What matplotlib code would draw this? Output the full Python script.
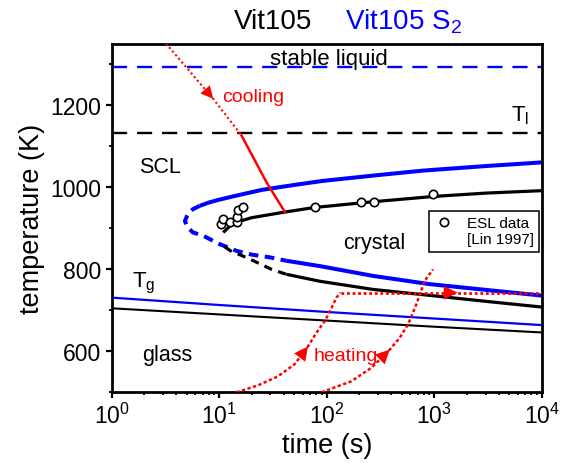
import matplotlib
matplotlib.use("Agg")
import matplotlib.pyplot as plt
from matplotlib.ticker import LogLocator, MultipleLocator, NullFormatter

plt.rcParams['font.family'] = ['Liberation Sans', 'DejaVu Sans']
plt.rcParams['mathtext.fontset'] = 'custom'
plt.rcParams['mathtext.rm'] = 'Liberation Sans'
plt.rcParams['mathtext.it'] = 'Liberation Sans:italic'

# liquidus temperatures (K)
T_liq_vit105 = 1133
T_liq_s2 = 1294

# glass transition vs time
tg_t = [1, 10, 100, 1000, 1e4]
tg_vit105 = [705, 690, 675, 660, 646]
tg_s2 = [731, 713, 696, 680, 664]

# Vit105 TTT nose (black)
blk_upper_t = [10.9, 12.5, 14.5, 20, 39, 77, 270, 1000, 3000, 1e4]
blk_upper_T = [890, 905, 915, 926, 939, 951, 965, 978, 986, 992]
blk_nose_t = [11.3, 12.6, 19.3, 30.7, 42]
blk_nose_T = [855, 846, 825, 800, 788]
blk_lower_t = [42, 86, 270, 800, 3000, 1e4]
blk_lower_T = [788, 771, 751, 738, 722, 708]

# Vit105 S2 TTT nose (blue)
blu_upper_t = [6.6, 8, 10, 14.5, 25, 50, 93, 300, 790, 3000, 1e4]
blu_upper_T = [955, 963, 970, 980, 994, 1006, 1016, 1030, 1041, 1052, 1061]
blu_nose_t = [6.6, 5.7, 5.1, 4.8, 5.1, 5.7, 7.1, 10, 14.5, 20, 30, 42]
blu_nose_T = [955, 947, 935, 918, 902, 890, 882, 862, 845, 836, 829, 821]
blu_lower_t = [42, 86, 270, 900, 3000, 1e4]
blu_lower_T = [821, 808, 784, 764, 750, 736]

# ESL data [Lin 1997]
esl_t = [10.5, 10.9, 12.6, 14.5, 14.5, 14.8, 16.7, 77, 210, 276, 975]
esl_T = [910, 923, 915, 915, 928, 946, 951, 951, 965, 965, 983]

# cooling path (dotted above T_l, solid below)
cool_dot_t = [3.2, 8.8, 16.1]
cool_dot_T = [1351, 1216, 1127]
cool_t = [16.1, 27.6, 40.8]
cool_T = [1127, 1012, 940]

# heating paths
heat1_t = [14.5, 23, 35.3, 50.5, 67, 80, 96, 111, 123, 135]
heat1_T = [500, 517, 539, 569, 612, 645, 674, 706, 731, 743]
hold_t = [135, 1e4]
hold_T = [743, 743]
heat2_t = [89.5, 170, 261, 386, 478, 571, 683, 816, 975]
heat2_T = [500, 527, 560, 604, 633, 666, 715, 772, 800]
hold_arrow_t = 1650

BLUE = '#0000ff'
RED = '#ff0000'


def arrow(ax, p0, p1, color, size=11):
    ax.annotate('', xy=p1, xytext=p0,
                arrowprops=dict(arrowstyle='-|>,head_length=0.5,head_width=0.25',
                                color=color, lw=0,
                                mutation_scale=size, shrinkA=0, shrinkB=0),
                zorder=6)


fig = plt.figure(figsize=(5.67, 4.64), dpi=100)
ax = fig.add_axes([0.197, 0.1524, 0.7584, 0.7507])
ax.set_xscale('log')
ax.set_xlim(1, 1e4)
ax.set_ylim(500, 1350)

# liquidus lines
ax.axhline(T_liq_s2, color=BLUE, lw=1.7, dashes=(6.4, 4.2))
ax.axhline(T_liq_vit105, color='black', lw=1.7, dashes=(6.4, 4.2))

# Tg lines
ax.plot(tg_t, tg_s2, color=BLUE, lw=1.6)
ax.plot(tg_t, tg_vit105, color='black', lw=1.5)

# noses
ax.plot(blu_upper_t, blu_upper_T, color=BLUE, lw=2.9, solid_capstyle='butt')
ax.plot(blu_nose_t, blu_nose_T, color=BLUE, lw=2.9, dashes=(2.4, 1.6))
ax.plot(blu_lower_t, blu_lower_T, color=BLUE, lw=2.9, solid_capstyle='butt')
ax.plot(blk_upper_t, blk_upper_T, color='black', lw=2.3, solid_capstyle='butt')
ax.plot(blk_nose_t, blk_nose_T, color='black', lw=2.3, dashes=(2.6, 2.0))
ax.plot(blk_lower_t, blk_lower_T, color='black', lw=2.3, solid_capstyle='butt')

# cooling
ax.plot(cool_dot_t, cool_dot_T, color=RED, lw=1.5, dashes=(1, 1.3), zorder=5)
ax.plot(cool_t, cool_T, color=RED, lw=1.8, zorder=5)
arrow(ax, (cool_dot_t[0], cool_dot_T[0]), (cool_dot_t[1], cool_dot_T[1]), RED, 18)

# heating
ax.plot(heat1_t, heat1_T, color=RED, lw=1.8, dashes=(1.3, 1.0), zorder=5)
ax.plot(hold_t, hold_T, color=RED, lw=2.0, dashes=(1.0, 1.0), zorder=5)
ax.plot(heat2_t, heat2_T, color=RED, lw=1.8, dashes=(1.3, 1.0), zorder=5)
arrow(ax, (heat1_t[3], heat1_T[3]), (heat1_t[4], heat1_T[4]), RED, 20)
arrow(ax, (heat2_t[2], heat2_T[2]), (heat2_t[3], heat2_T[3]), RED, 20)
arrow(ax, (hold_t[0], hold_T[0]), (hold_arrow_t, hold_T[0]), RED, 20)

# ESL data
ax.plot(esl_t, esl_T, 'o', mfc='white', mec='black', ms=6, mew=1.2, zorder=7,
        label='ESL data')
ax.plot([], [], ' ', label='[Lin 1997]')
leg = ax.legend(loc='upper right', bbox_to_anchor=(0.994, 0.521), fontsize=11,
                frameon=True, fancybox=False, edgecolor='black', framealpha=1,
                handlelength=1.2, handletextpad=0.9, borderpad=0.35,
                labelspacing=0.15, borderaxespad=0)
leg.get_frame().set_linewidth(1.1)

# region labels
ax.text(10**2.02, 1302, 'stable liquid', fontsize=16, ha='center', va='baseline')
ax.text(10.7, 1210, 'cooling', fontsize=14, color=RED, va='baseline')
ax.text(10**3.717, 1163, r'T$_\mathrm{l}$', fontsize=16, va='baseline')
ax.text(10**0.257, 1038, 'SCL', fontsize=15.5, va='baseline')
ax.text(10**2.153, 853, 'crystal', fontsize=15.5, va='baseline')
ax.text(10**0.186, 759, r'T$_\mathrm{g}$', fontsize=16, va='baseline')
ax.text(10**0.279, 580, 'glass', fontsize=15.5, va='baseline')
ax.text(10**1.88, 580, 'heating', fontsize=14, color=RED, va='baseline')

# axes styling
for s in ax.spines.values():
    s.set_linewidth(2)
ax.xaxis.set_major_locator(LogLocator(base=10, numticks=10))
ax.xaxis.set_minor_locator(LogLocator(base=10, subs=range(2, 10), numticks=10))
ax.xaxis.set_minor_formatter(NullFormatter())
ax.yaxis.set_major_locator(MultipleLocator(200))
ax.yaxis.set_minor_locator(MultipleLocator(100))
ax.tick_params(which='major', direction='out', length=4.5, width=1.6,
               labelsize=16.5, pad=3)
ax.tick_params(which='minor', direction='out', length=2.5, width=1.3)
ax.set_xlabel('time (s)', fontsize=19.5, labelpad=3)
ax.set_ylabel('temperature (K)', fontsize=19.5, labelpad=4)

fig.text(0.481, 0.953, 'Vit105', fontsize=20, ha='center', va='center')
fig.text(0.712, 0.953, r'Vit105 S$_2$', fontsize=20, ha='center', va='center',
         color=BLUE)

fig.savefig('out.png', dpi=100)
